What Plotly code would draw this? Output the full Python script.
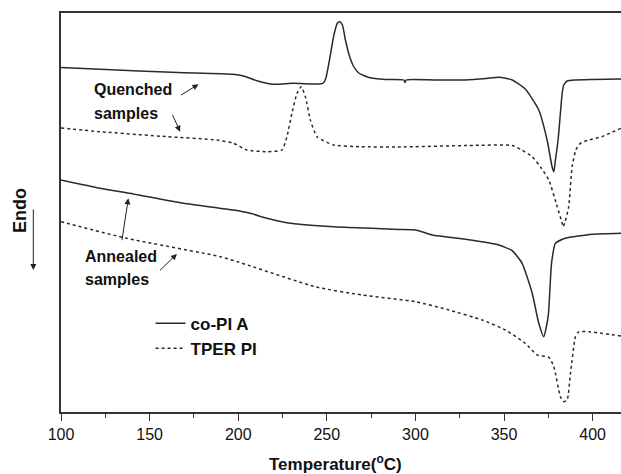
import plotly.graph_objects as go

# ---- data (temperature in °C, heat flow in arbitrary units, endo down) ----
T_q_copi = [100, 122, 166, 197, 203, 210.6, 219.8, 231, 246, 248, 249.5, 251.5, 254, 256, 257.3, 258.8, 260.5,
            262.6, 265, 268, 273.8, 283, 293.5, 294.1, 294.7, 311, 328, 340, 347.1, 354.6, 362.1, 369.6, 374.3,
            377.1, 378.1, 379, 380.5, 381.8, 382.8, 383.7, 385.6, 390.3, 400, 416]
hf_q_copi = [-67.5, -69.3, -72.5, -74.3, -76, -80.7, -84.3, -83.3, -84, -83, -78, -60, -35, -23, -21.7, -25, -40,
             -55, -66, -73, -77.5, -79.5, -80, -82.5, -80, -80, -80, -78.5, -77.3, -80, -89.3, -110, -140,
             -166.7, -171.7, -160, -140, -113.3, -93.3, -85, -81, -80, -79.5, -79]

T_q_tper = [100, 122, 160, 188, 197.3, 204.9, 216.2, 224.7, 227.5, 230.3, 233.2, 235.6, 237.9, 240.7, 244.5,
            253.8, 269, 290, 330, 354.6, 360, 365.9, 371, 375.3, 380, 382.6, 383.4, 384.4, 386.5, 388.4, 390.5,
            393.1, 397.8, 405, 416]
hf_q_tper = [-128, -131.7, -136.7, -140, -143.3, -150, -151.7, -150, -136.7, -113.3, -93.3, -86.7, -96.7, -120,
             -136.7, -145, -146.7, -147, -145.5, -145.5, -150, -156.7, -168, -180, -206.7, -222, -227, -222,
             -206.7, -166.7, -150, -143.3, -140, -136.7, -128.3]

T_a_copi = [100, 122, 140.8, 169.1, 197.3, 206.8, 216.2, 227.5, 253.8, 272, 290.8, 300.1, 309.5, 328.3, 347.1,
            354.6, 360.2, 365.9, 369.6, 372.4, 374.9, 376.8, 379, 384.6, 399.7, 416]
hf_a_copi = [-180, -188.3, -194, -203.3, -210, -213.3, -218.3, -222.7, -226.7, -228, -229.5, -230, -235, -239.3,
             -245, -250.7, -263.3, -293.3, -323.3, -336.7, -316.7, -263.3, -243.3, -238.3, -234.3, -233.3]

T_a_tper = [100, 137, 190, 200, 244, 270, 300, 318.9, 337.7, 350.8, 362, 368.7, 375.3, 378.1, 381.8, 383.7,
            385.6, 387.5, 390.3, 392.2, 397.8, 416]
hf_a_tper = [-221.7, -238.3, -256.7, -262, -287, -295, -301.7, -310, -320, -330, -343.3, -355, -357.3, -366.7,
             -396.7, -401.7, -400, -373.3, -336.7, -331.7, -331.7, -336]

x_ticks = [100, 150, 200, 250, 300, 350, 400]
series_names = ["co-PI A", "TPER PI"]

FONT = "Liberation Sans, Arial, sans-serif"
LC = "#2a2a2a"

fig = go.Figure()
line_solid = dict(color=LC, width=1.5, shape="spline", smoothing=0.5)
line_dot = dict(color=LC, width=1.5, dash="dot", shape="spline", smoothing=0.5)

fig.add_trace(go.Scatter(x=T_q_copi, y=hf_q_copi, mode="lines", line=line_solid,
                         name=series_names[0], legendgroup="a"))
fig.add_trace(go.Scatter(x=T_q_tper, y=hf_q_tper, mode="lines", line=line_dot,
                         name=series_names[1], legendgroup="b"))
fig.add_trace(go.Scatter(x=T_a_copi, y=hf_a_copi, mode="lines", line=line_solid,
                         name=series_names[0], legendgroup="a", showlegend=False))
fig.add_trace(go.Scatter(x=T_a_tper, y=hf_a_tper, mode="lines", line=line_dot,
                         name=series_names[1], legendgroup="b", showlegend=False))

ann = []
def label(x, y, text):
    ann.append(dict(x=x, y=y, xref="x", yref="y", text=text, showarrow=False,
                    xanchor="left", yanchor="middle",
                    font=dict(family=FONT, size=16, color="#111", weight="bold")))

def arrow(x, y, ax, ay):
    ann.append(dict(x=x, y=y, xref="x", yref="y", text="", showarrow=True, ax=ax, ay=ay,
                    arrowhead=2, arrowsize=1.2, arrowwidth=1, arrowcolor="#222"))

label(117.5, -89, "Quenched")
label(117.5, -113, "samples")
label(112.5, -256, "Annealed")
label(112.5, -279, "samples")
arrow(177.6, -84.3, -19, 11.7)
arrow(167.2, -131.7, -8.3, -18.4)
arrow(138.0, -198.3, -6.6, 43.4)
arrow(165.4, -254.0, -18.4, 17.7)

# Endo label with downward arrow
ann.append(dict(x=-0.073, y=(412 - 210.8) / 399, xref="paper", yref="paper", text="Endo",
                textangle=-90, showarrow=False, xanchor="center", yanchor="middle",
                font=dict(family=FONT, size=18, color="#111", weight="bold")))
ann.append(dict(x=(33.3 - 61) / 560, y=(412 - 270) / 399, xref="paper", yref="paper", text="",
                showarrow=True, ax=0, ay=-62, arrowhead=2, arrowsize=1.2, arrowwidth=1, arrowcolor="#222"))

# x-axis title
ann.append(dict(x=(335 - 61) / 560, y=(412 - 463) / 399, xref="paper", yref="paper",
                text="Temperature(<sup>o</sup>C)", showarrow=False, xanchor="center", yanchor="middle",
                font=dict(family=FONT, size=17, color="#111", weight="bold")))

fig.update_layout(
    width=621, height=474,
    margin=dict(l=61, r=0, t=13, b=62, autoexpand=False),
    paper_bgcolor="white", plot_bgcolor="white",
    font=dict(family=FONT, color="#111"),
    showlegend=True,
    legend=dict(x=0.16, y=0.19, xanchor="left", yanchor="middle", bgcolor="rgba(0,0,0,0)",
                font=dict(family=FONT, size=17, color="#111", weight="bold"), tracegroupgap=0),
    annotations=ann,
)
fig.update_xaxes(range=[100, 416], showline=True, linecolor="#333", linewidth=1.5, mirror=True,
                 ticks="outside", ticklen=7, tickwidth=1.2, tickcolor="#333", automargin=False,
                 tickvals=x_ticks, tickfont=dict(family=FONT, size=16, color="#111"),
                 minor=dict(dtick=25, tick0=100, ticks="outside", ticklen=4, tickwidth=1.2, tickcolor="#333"),
                 showgrid=False, zeroline=False)
fig.update_yaxes(range=[-412, -13], showline=True, linecolor="#333", linewidth=1.5, mirror=False,
                 automargin=False,
                 showticklabels=False, ticks="", showgrid=False, zeroline=False)

fig.write_html("out.html", config={"displayModeBar": False},
               post_script="document.body.style.margin='0';document.body.style.overflow='hidden';")
